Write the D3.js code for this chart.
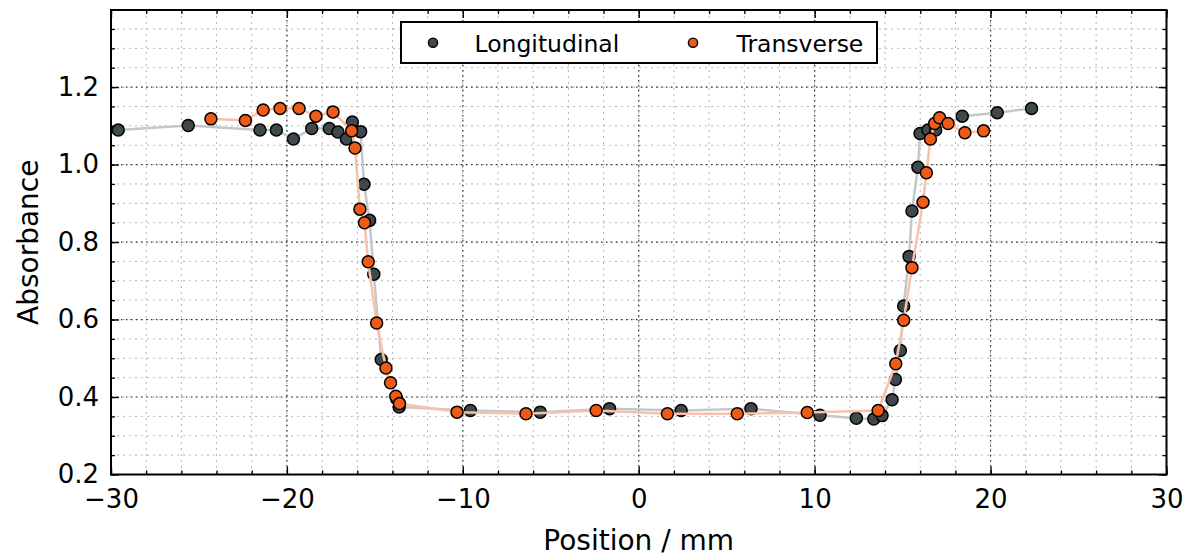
<!DOCTYPE html>
<html>
<head>
<meta charset="utf-8">
<script src="https://cdn.jsdelivr.net/npm/d3@7/dist/d3.min.js"></script>
<style>
  body { margin: 0; background: #fff; }
  svg { display: block; }
  text { font-family: "DejaVu Sans", sans-serif; fill: #000; }
</style>
</head>
<body>
<svg id="chart" width="1192" height="558"></svg>
<script>
// Absorbance profiles across the sample, position in mm
const longX = [-29.59, -25.61, -21.53, -20.60, -19.63, -18.59, -17.59, -17.10, -16.62, -16.28, -15.81,
  -15.62, -15.30, -15.06, -14.64, -13.75, -13.62, -9.57, -5.60, -1.66, 2.41, 6.38, 10.30, 12.37,
  13.36, 13.83, 14.40, 14.59, 14.87, 15.06, 15.37, 15.53, 15.87, 15.99, 16.44, 16.88, 18.39, 20.38, 22.33];
const longY = [1.089, 1.101, 1.089, 1.089, 1.066, 1.093, 1.093, 1.084, 1.066, 1.110, 1.085,
  0.949, 0.856, 0.717, 0.497, 0.395, 0.374, 0.365, 0.361, 0.370, 0.365, 0.370, 0.353, 0.345,
  0.343, 0.352, 0.393, 0.445, 0.520, 0.635, 0.763, 0.880, 0.993, 1.080, 1.089, 1.089, 1.125, 1.134, 1.145];

const transX = [-24.32, -22.36, -21.35, -20.39, -19.31, -18.35, -17.38, -16.32, -16.13, -15.85, -15.59,
  -15.38, -14.90, -14.37, -14.11, -13.81, -13.60, -10.33, -6.41, -2.42, 1.63, 5.60, 9.58, 13.61,
  14.61, 15.06, 15.53, 16.16, 16.35, 16.58, 16.82, 17.10, 17.58, 18.54, 19.60];
const transY = [1.118, 1.114, 1.141, 1.145, 1.145, 1.125, 1.136, 1.087, 1.043, 0.885, 0.850,
  0.749, 0.591, 0.475, 0.437, 0.402, 0.383, 0.361, 0.357, 0.365, 0.357, 0.357, 0.360, 0.365,
  0.486, 0.598, 0.734, 0.903, 0.979, 1.066, 1.106, 1.121, 1.106, 1.082, 1.087];

const seriesNames = ["Longitudinal", "Transverse"];
const seriesFill = ["#3e484d", "#ef5a17"];
const seriesLine = ["#c4c8ca", "#f8c2a9"];

const xTicks = [-30, -20, -10, 0, 10, 20, 30];
const yTicks = [0.2, 0.4, 0.6, 0.8, 1.0, 1.2];
const xMinorStep = 2;
const yMinorStep = 0.05;

const xLabel = "Position / mm";
const yLabel = "Absorbance";

// layout
const L = 111, R = 1166.5, T = 10, B = 474.5;

const svg = d3.select("#chart");
const x = d3.scaleLinear().domain([-30, 30]).range([L, R]);
const y = d3.scaleLinear().domain([0.2, 1.399]).range([B, T]);

const xMinor = d3.range(-30, 30.001, xMinorStep).map(v => +v.toFixed(4));
const yMinor = d3.range(0.2, 1.399, yMinorStep).map(v => +v.toFixed(4));

// grid: minor first (light), then major (dark)
const grid = svg.append("g");
grid.selectAll(".gxm").data(xMinor).join("line")
  .attr("x1", d => x(d)).attr("x2", d => x(d)).attr("y1", T).attr("y2", B)
  .attr("stroke", "#b4b4b4").attr("stroke-width", 1).attr("stroke-dasharray", "2 4");
grid.selectAll(".gym").data(yMinor).join("line")
  .attr("x1", L).attr("x2", R).attr("y1", d => y(d)).attr("y2", d => y(d))
  .attr("stroke", "#b4b4b4").attr("stroke-width", 1).attr("stroke-dasharray", "2 4");
grid.selectAll(".gx").data(xTicks).join("line")
  .attr("x1", d => x(d)).attr("x2", d => x(d)).attr("y1", T).attr("y2", B)
  .attr("stroke", "#333").attr("stroke-width", 1.2).attr("stroke-dasharray", "1.5 3.5");
grid.selectAll(".gy").data(yTicks).join("line")
  .attr("x1", L).attr("x2", R).attr("y1", d => y(d)).attr("y2", d => y(d))
  .attr("stroke", "#333").attr("stroke-width", 1.2).attr("stroke-dasharray", "1.5 3.5");

// data series
const series = [
  { xs: longX, ys: longY },
  { xs: transX, ys: transY }
];
const line = d3.line().x(d => x(d[0])).y(d => y(d[1]));
series.forEach((s, i) => {
  const pts = s.xs.map((v, k) => [v, s.ys[k]]);
  svg.append("path").datum(pts)
    .attr("d", line).attr("fill", "none")
    .attr("stroke", seriesLine[i]).attr("stroke-width", 2.5)
    .attr("stroke-linejoin", "round");
  svg.append("g").selectAll("circle").data(pts).join("circle")
    .attr("cx", d => x(d[0])).attr("cy", d => y(d[1])).attr("r", 6)
    .attr("fill", seriesFill[i]).attr("stroke", "#000").attr("stroke-width", 1.5);
});

// axes with inward ticks on all four sides
const fs = 26;
function styleAxis(g) {
  g.select(".domain").remove();
  g.selectAll(".tick line").attr("stroke", "#000").attr("stroke-width", 1.3);
  g.selectAll(".tick text").attr("font-size", fs).attr("font-family", "DejaVu Sans");
}
svg.append("g").attr("transform", `translate(0,${B})`)
  .call(d3.axisBottom(x).tickValues(xTicks).tickSizeInner(-8).tickSizeOuter(0).tickPadding(15)
    .tickFormat(d3.format("d"))).call(styleAxis);
svg.append("g").attr("transform", `translate(0,${B})`)
  .call(d3.axisBottom(x).tickValues(xMinor).tickSizeInner(-4).tickSizeOuter(0).tickFormat("")).call(styleAxis);
svg.append("g").attr("transform", `translate(0,${T})`)
  .call(d3.axisTop(x).tickValues(xTicks).tickSizeInner(-8).tickSizeOuter(0).tickFormat("")).call(styleAxis);
svg.append("g").attr("transform", `translate(0,${T})`)
  .call(d3.axisTop(x).tickValues(xMinor).tickSizeInner(-4).tickSizeOuter(0).tickFormat("")).call(styleAxis);
svg.append("g").attr("transform", `translate(${L},0)`)
  .call(d3.axisLeft(y).tickValues(yTicks).tickSizeInner(-8).tickSizeOuter(0).tickPadding(12)
    .tickFormat(d3.format(".1f"))).call(styleAxis);
svg.append("g").attr("transform", `translate(${L},0)`)
  .call(d3.axisLeft(y).tickValues(yMinor).tickSizeInner(-4).tickSizeOuter(0).tickFormat("")).call(styleAxis);
svg.append("g").attr("transform", `translate(${R},0)`)
  .call(d3.axisRight(y).tickValues(yTicks).tickSizeInner(-8).tickSizeOuter(0).tickFormat("")).call(styleAxis);
svg.append("g").attr("transform", `translate(${R},0)`)
  .call(d3.axisRight(y).tickValues(yMinor).tickSizeInner(-4).tickSizeOuter(0).tickFormat("")).call(styleAxis);

// frame
svg.append("rect").attr("x", L).attr("y", T).attr("width", R - L).attr("height", B - T)
  .attr("fill", "none").attr("stroke", "#000").attr("stroke-width", 2);

// axis titles
svg.append("text").attr("x", (L + R) / 2).attr("y", 550).attr("text-anchor", "middle")
  .attr("font-size", 28).text(xLabel);
svg.append("text").attr("transform", `translate(38,${(T + B) / 2}) rotate(-90)`)
  .attr("text-anchor", "middle").attr("font-size", 28).text(yLabel);

// legend
const leg = svg.append("g");
leg.append("rect").attr("x", 401).attr("y", 22).attr("width", 476).attr("height", 41)
  .attr("fill", "#fff").attr("stroke", "#000").attr("stroke-width", 2);
const legMarkX = [433, 693];
const legTextX = [474.5, 736.5];
seriesNames.forEach((name, i) => {
  leg.append("circle").attr("cx", legMarkX[i]).attr("cy", 42.7).attr("r", 4.6)
    .attr("fill", seriesFill[i]).attr("stroke", "#000").attr("stroke-width", 1.4);
  leg.append("text").attr("x", legTextX[i]).attr("y", 51.5).attr("font-size", 23.5).text(name);
});
</script>
</body>
</html>
